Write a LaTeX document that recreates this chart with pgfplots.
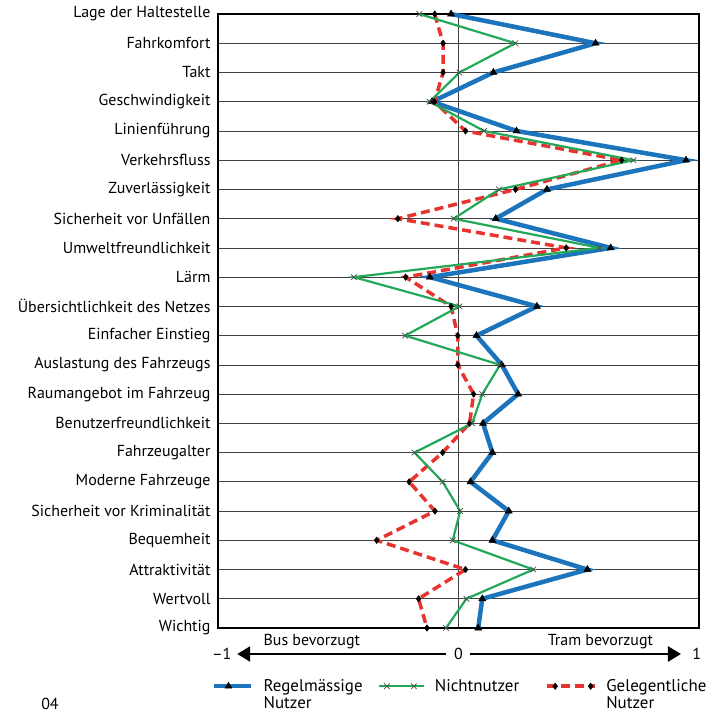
\documentclass[border=0pt]{standalone}
\usepackage{fontspec}
\setmainfont{PT Sans}
\usepackage{pgfplots}
\pgfplotsset{compat=1.18}
\usepackage{pgfplotstable}
\usetikzlibrary{arrows.meta}

\definecolor{regblue}{RGB}{28,117,188}
\definecolor{nichtgreen}{RGB}{34,168,88}
\definecolor{gelred}{RGB}{232,52,46}

\pgfplotsset{
  regleg/.style={legend image code/.code={
    \draw[##1, mark=none] (0bp,0bp) -- (37bp,0bp);
    \draw[##1] plot coordinates {(14bp,0bp)};}},
  nichtleg/.style={legend image code/.code={
    \draw[##1, mark=none] (0bp,0bp) -- (45bp,0bp);
    \draw[##1, only marks] plot coordinates {(8bp,0bp) (35bp,0bp)};}},
  gelleg/.style={legend image code/.code={
    \draw[##1, mark=none] (0bp,0bp) -- (48bp,0bp);
    \draw[##1, only marks] plot coordinates {(8.6bp,0bp) (44bp,0bp)};}},
}

% y = Zeile (0 = Lage der Haltestelle), Werte von -1 (Bus) bis 1 (Tram)
\pgfplotstableread{
y  reg    nicht  gel
0  -0.031 -0.163 -0.099
1   0.570  0.236 -0.064
2   0.145  0.004 -0.064
3  -0.110 -0.120 -0.100
4   0.241  0.106  0.029
5   0.946  0.727  0.678
6   0.368  0.169  0.237
7   0.155 -0.020 -0.252
8   0.633  0.587  0.448
9  -0.119 -0.435 -0.220
10  0.326  0.004 -0.031
11  0.075 -0.222 -0.003
12  0.180  0.173 -0.003
13  0.248  0.099  0.063
14  0.102  0.057  0.046
15  0.141 -0.183 -0.066
16  0.050 -0.066 -0.205
17  0.209  0.007 -0.098
18  0.141 -0.024 -0.340
19  0.536  0.311  0.029
20  0.099  0.033 -0.166
21  0.082 -0.052 -0.131
}\profil

\begin{document}
\begin{tikzpicture}
\useasboundingbox (-218bp,-87bp) rectangle (494bp,628bp);
\begin{axis}[
  at={(0,0)}, anchor=south west,
  scale only axis, width=481bp, height=614bp,
  xmin=-1, xmax=1, ymin=0, ymax=21, y dir=reverse,
  ytick={0,...,21},
  yticklabels={Lage der Haltestelle, Fahrkomfort, Takt, Geschwindigkeit,
    Linienführung, Verkehrsfluss, Zuverlässigkeit, Sicherheit vor Unfällen,
    Umweltfreundlichkeit, Lärm, Übersichtlichkeit des Netzes, Einfacher Einstieg,
    Auslastung des Fahrzeugs, Raumangebot im Fahrzeug, Benutzerfreundlichkeit,
    Fahrzeugalter, Moderne Fahrzeuge, Sicherheit vor Kriminalität, Bequemheit,
    Attraktivität, Wertvoll, Wichtig},
  yticklabel style={xshift=-4bp, font=\fontsize{16}{18}\selectfont},
  xtick={0}, xticklabels={},
  xmajorgrids, ymajorgrids,
  major tick length=0,
  grid style={black!75, line width=0.7bp},
  axis line style={line width=1.2bp},
  clip=false,
  font=\fontsize{16}{18}\selectfont,
  legend columns=3,
  legend cell align=left,
  legend style={draw=none, fill=none, at={(-0.0187,-0.077)}, anchor=north west,
    font=\fontsize{17}{17}\selectfont,
    /tikz/every odd column/.append style={column sep=8bp},
    /tikz/every even column/.append style={column sep=6bp}},
]
\addlegendimage{regblue, line width=4.5bp, mark=triangle*, mark size=4bp,
  mark options={black, solid, line width=0.5bp}, regleg}
\addlegendentry{\parbox[t]{106bp}{Regelmässige\\Nutzer}}
\addlegendimage{nichtgreen, line width=2.2bp, mark=x, mark size=4bp,
  mark options={black!70, solid, line width=0.7bp}, nichtleg}
\addlegendentry{\parbox[t]{102bp}{Nichtnutzer}}
\addlegendimage{gelred, line width=3.5bp, dash pattern=on 9bp off 5bp,
  mark=diamond*, mark size=3.2bp, mark options={black, solid, line width=0.5bp}, gelleg}
\addlegendentry{\parbox[t]{100bp}{Gelegentliche\\Nutzer}}

\addplot[forget plot, regblue, line width=4.5bp, mark=triangle*, mark size=4bp,
  mark options={black, solid, line width=0.5bp}] table[x=reg, y=y] {\profil};
\addplot[forget plot, gelred, line width=3.5bp, dash pattern=on 9bp off 5bp,
  mark=diamond*, mark size=3.2bp, mark options={black, solid, line width=0.5bp}]
  table[x=gel, y=y] {\profil};
\addplot[forget plot, nichtgreen, line width=2.2bp, mark=x, mark size=4bp,
  mark options={black!70, solid, line width=0.7bp}] table[x=nicht, y=y] {\profil};

% Achse Bus / Tram unter dem Diagramm
\draw[line width=2.5bp, -{Triangle[length=13bp,width=15bp]}]
  ([yshift=-26bp]axis cs:-0.054,21) -- ([yshift=-26bp]axis cs:-0.92,21);
\draw[line width=2.5bp, -{Triangle[length=13bp,width=15bp]}]
  ([yshift=-26bp]axis cs:0.048,21) -- ([yshift=-26bp]axis cs:0.925,21);
\node at ([yshift=-26bp]axis cs:-0.985,21) {–1};
\node at ([yshift=-26bp]axis cs:0,21) {0};
\node at ([yshift=-26bp]axis cs:0.99,21) {1};
\node at ([yshift=-14bp]axis cs:-0.61,21) {Bus bevorzugt};
\node at ([yshift=-14bp]axis cs:0.59,21) {Tram bevorzugt};
\end{axis}
\node[font=\fontsize{16}{18}\selectfont] at (-168bp,-76bp) {04};
\end{tikzpicture}
\end{document}
